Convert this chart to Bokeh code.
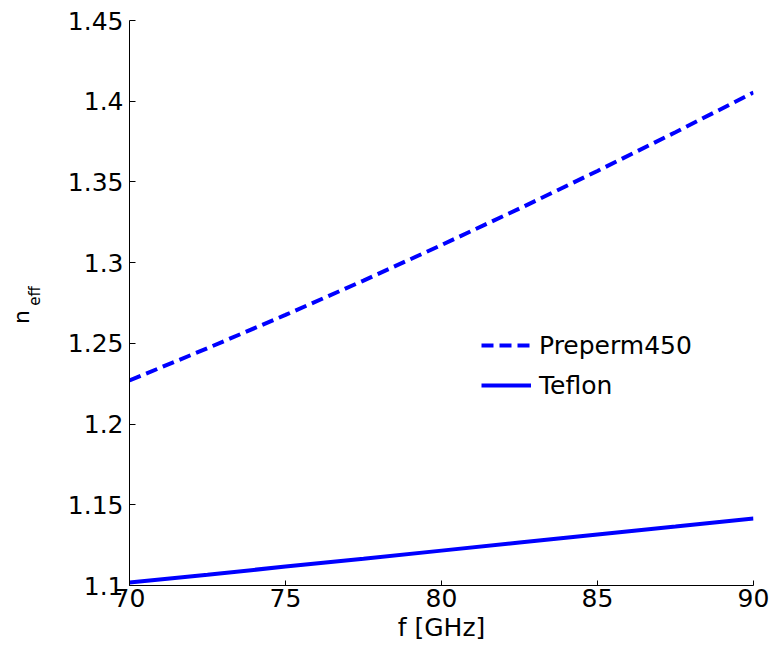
from bokeh.plotting import figure
from bokeh.models import (Range1d, FixedTicker, CustomJSTickFormatter, Legend,
                          LegendItem, LinearAxis)
from bokeh.embed import file_html
from bokeh.resources import INLINE

# ---- data ----
freq_ghz = [70, 72.5, 75, 77.5, 80, 82.5, 85, 87.5, 90]
n_preperm450 = [1.2270, 1.2470, 1.2676, 1.2889, 1.3109, 1.3335, 1.3568, 1.3808, 1.4054]
n_teflon = [1.1018, 1.1067, 1.1117, 1.1166, 1.1216, 1.1266, 1.1316, 1.1365, 1.1415]

x_ticks = [70, 75, 80, 85, 90]
y_ticks = [1.1, 1.15, 1.2, 1.25, 1.3, 1.35, 1.4, 1.45]
series_names = ["Preperm450", "Teflon"]
x_label = "f [GHz]"
y_label_main = "n"
y_label_sub = "eff"

FONT = "DejaVu Sans"
BLUE = "#0000ff"
NBSP = "\u00a0"

p = figure(width=774, height=650, output_backend="svg", toolbar_location=None,
           x_range=Range1d(70, 90), y_range=Range1d(1.1, 1.45),
           min_border_left=129, min_border_right=21, min_border_top=20,
           min_border_bottom=65)
p.outline_line_color = None
p.background_fill_color = "white"
p.border_fill_color = "white"
p.xgrid.visible = False
p.ygrid.visible = False

r1 = p.line(freq_ghz, n_preperm450, line_color=BLUE, line_width=4, line_dash="12 6")
r2 = p.line(freq_ghz, n_teflon, line_color=BLUE, line_width=4)

for ax in (p.xaxis[0], p.yaxis[0]):
    ax.axis_line_color = "black"
    ax.major_tick_line_color = "black"
    ax.minor_tick_line_color = None
    ax.major_tick_out = 0
    ax.major_label_text_font = FONT
    ax.major_label_text_font_size = "25px"
    ax.major_label_text_color = "black"
    ax.axis_label_text_font = FONT
    ax.axis_label_text_font_size = "25px"
    ax.axis_label_text_font_style = "normal"
    ax.axis_label_text_color = "black"

p.xaxis[0].ticker = FixedTicker(ticks=x_ticks)
p.xaxis[0].major_tick_in = 5
p.xaxis[0].major_label_standoff = 3
p.xaxis[0].axis_label = x_label
p.xaxis[0].axis_label_standoff = 3

# primary y axis: ticks + the subscript part of the label
yax = p.yaxis[0]
yax.ticker = FixedTicker(ticks=y_ticks)
yax.major_tick_in = 6
yax.major_label_standoff = 6
yax.formatter = CustomJSTickFormatter(
    code="return tick.toFixed(2).replace(/0$/, '');")
yax.axis_label = NBSP * 3 + y_label_sub
yax.axis_label_text_font_size = "15px"
yax.axis_label_standoff = 21

# outer helper axis carrying the main letter of the label
yax2 = LinearAxis(ticker=FixedTicker(ticks=[]), axis_line_color=None,
                  major_tick_in=0, major_tick_out=0, minor_tick_in=0,
                  minor_tick_out=0, major_label_standoff=0,
                  axis_label=y_label_main + NBSP * 4, axis_label_standoff=-11,
                  axis_label_text_font=FONT, axis_label_text_font_size="22px",
                  axis_label_text_font_style="normal", axis_label_text_color="black")
p.add_layout(yax2, "left")

legend = Legend(items=[LegendItem(label=series_names[0], renderers=[r1]),
                       LegendItem(label=series_names[1], renderers=[r2])],
                location=(352, 185), orientation="vertical")
legend.border_line_color = None
legend.background_fill_alpha = 0
legend.padding = 0
legend.margin = 0
legend.spacing = 10
legend.glyph_width = 50
legend.glyph_height = 30
legend.label_height = 30
legend.label_standoff = 8
legend.label_text_font = FONT
legend.label_text_font_size = "25px"
legend.label_text_color = "black"
p.add_layout(legend, "center")

open("out.html", "w").write(file_html(p, INLINE))
